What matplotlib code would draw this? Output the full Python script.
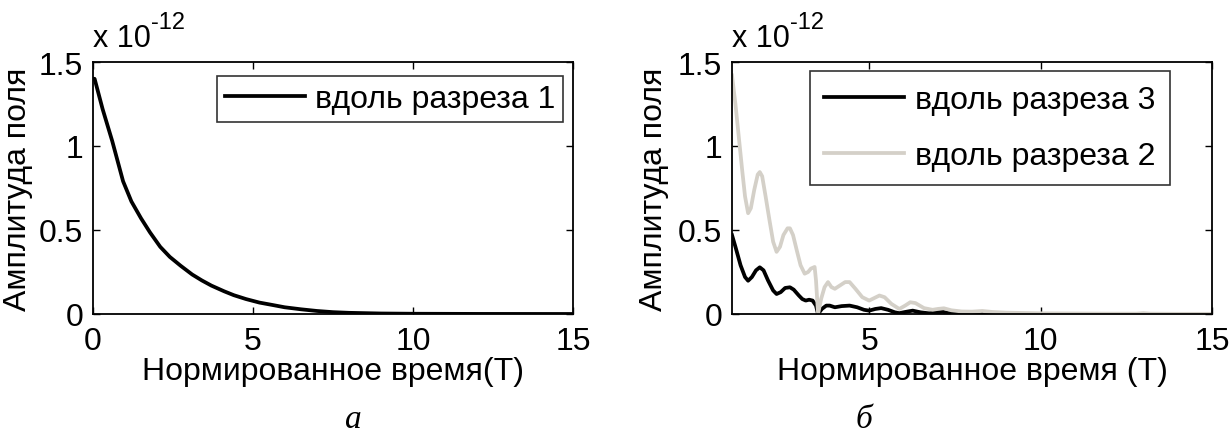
import numpy as np
import matplotlib
matplotlib.use("Agg")
import matplotlib.pyplot as plt

plt.rcParams['font.family'] = ['Liberation Sans', 'DejaVu Sans']

# panel a: along cut 1
t1 = [0.0, 0.05, 0.3, 0.6, 0.94, 1.2, 1.5, 1.78, 2.1, 2.4, 2.74, 3.1, 3.4, 3.7, 4.1, 4.4, 4.78,
      5.2, 5.6, 5.99, 6.5, 7.0, 7.5, 8.0, 9.0, 10.0, 12.0, 15.0]
a1 = [1.40, 1.40, 1.22, 1.03, 0.79, 0.67, 0.57, 0.486, 0.40, 0.34, 0.287, 0.235, 0.20, 0.169, 0.135, 0.112, 0.089,
      0.068, 0.054, 0.040, 0.028, 0.018, 0.011, 0.007, 0.003, 0.0015, 0.0005, 0.0001]

# panel b: along cut 2 (grey)
t2 = [1.0, 1.1, 1.2, 1.3, 1.38, 1.47, 1.55, 1.65, 1.75, 1.81, 1.88, 1.98, 2.1, 2.2, 2.3, 2.4, 2.5, 2.62, 2.69,
      2.78, 2.9, 3.0, 3.12, 3.22, 3.3, 3.41, 3.45, 3.51, 3.6, 3.7, 3.8, 3.9, 4.0, 4.15, 4.3, 4.43, 4.6, 4.8,
      5.0, 5.15, 5.3, 5.45, 5.65, 5.88, 6.05, 6.2, 6.35, 6.6, 6.85, 7.0, 7.18, 7.4, 7.7, 8.0, 8.3, 8.6, 9.0,
      9.5, 10.0, 11.0, 12.0, 12.8, 13.0, 13.2, 14.0, 15.0]
a2 = [1.42, 1.25, 1.05, 0.85, 0.70, 0.60, 0.63, 0.74, 0.83, 0.845, 0.82, 0.70, 0.55, 0.43, 0.37, 0.40, 0.47, 0.51, 0.51,
      0.47, 0.37, 0.29, 0.24, 0.25, 0.27, 0.28, 0.20, 0.0, 0.09, 0.16, 0.19, 0.16, 0.15, 0.17, 0.19, 0.19, 0.15, 0.10,
      0.08, 0.095, 0.11, 0.10, 0.06, 0.03, 0.05, 0.07, 0.065, 0.035, 0.025, 0.03, 0.034, 0.022, 0.015, 0.014, 0.018, 0.012, 0.008,
      0.006, 0.004, 0.003, 0.002, 0.002, 0.005, 0.002, 0.001, 0.001]

# panel b: along cut 3 (black)
t3 = [1.0, 1.1, 1.25, 1.38, 1.47, 1.58, 1.7, 1.81, 1.92, 2.05, 2.2, 2.3, 2.42, 2.55, 2.69, 2.8, 2.95, 3.05,
      3.15, 3.25, 3.35, 3.45, 3.51, 3.62, 3.75, 3.85, 4.0, 4.2, 4.43, 4.65, 4.85, 5.0, 5.18, 5.35, 5.55, 5.75,
      5.88, 6.05, 6.27, 6.5, 6.75, 6.95, 7.15, 7.3, 7.6, 8.0, 9.0, 10.0, 12.0, 15.0]
a3 = [0.47, 0.40, 0.29, 0.22, 0.198, 0.22, 0.26, 0.278, 0.26, 0.20, 0.14, 0.119, 0.13, 0.155, 0.159, 0.145, 0.11, 0.089,
      0.08, 0.085, 0.08, 0.05, 0.0, 0.03, 0.05, 0.05, 0.04, 0.047, 0.05, 0.04, 0.025, 0.02, 0.03, 0.035, 0.025, 0.01,
      0.005, 0.012, 0.02, 0.01, 0.004, 0.01, 0.013, 0.006, 0.002, 0.001, 0.0008, 0.0005, 0.0003, 0.0002]

grey = '#d4d0c8'
scale = 1e-12
fs = 23

fig = plt.figure(figsize=(12.32, 4.35), dpi=100)
ax1 = fig.add_axes([93/1232, 1-315/435, 480/1232, 252/435])
ax2 = fig.add_axes([732/1232, 1-315/435, 480/1232, 252/435])

ax1.plot(t1, np.array(a1)*scale, color='black', lw=2.7, solid_joinstyle='round', label='вдоль разреза 1')
ax1.set_xlim(0, 15)
ax1.set_xticks([0, 5, 10, 15])

ax2.plot(t3, np.array(a3)*scale, color='black', lw=2.7, solid_joinstyle='round', label='вдоль разреза 3')
ax2.plot(t2, np.array(a2)*scale, color=grey, lw=2.7, solid_joinstyle='round', label='вдоль разреза 2')
ax2.set_xlim(1, 15)
ax2.set_xticks([5, 10, 15])

for ax, xl in ((ax1, 'Нормированное время(T)'), (ax2, 'Нормированное время (T)')):
    ax.set_ylim(0, 1.5*scale)
    ax.set_yticks(np.array([0, 0.5, 1, 1.5])*scale)
    ax.set_yticklabels(['0', '0.5', '1', '1.5'])
    ax.tick_params(direction='in', length=5, width=1, labelsize=fs, top=True, right=True, pad=7)
    ax.tick_params(axis='x', pad=9)
    for s in ax.spines.values():
        s.set_linewidth(1.3)
    ax.set_xlabel(xl, fontsize=fs, labelpad=0)
    ax.set_ylabel('Амплитуда поля', fontsize=fs)

ax1.yaxis.set_label_coords(-0.125, 0.5)
ax2.yaxis.set_label_coords(-0.131, 0.5)

leg1 = ax1.legend(loc='upper right', bbox_to_anchor=(0.979, 0.944), fontsize=fs, frameon=True,
                  fancybox=False, edgecolor='black', handlelength=2.5, borderaxespad=0,
                  handletextpad=0.3, borderpad=0.25)
leg1.get_frame().set_linewidth(1.2)
leg2 = ax2.legend(loc='upper right', bbox_to_anchor=(0.9125, 0.964), fontsize=fs, frameon=True,
                  fancybox=False, edgecolor='black', handlelength=2.5, borderaxespad=0,
                  handletextpad=0.35, borderpad=0.45, labelspacing=0.8)
leg2.get_frame().set_linewidth(1.2)

# MATLAB-style exponent label above each axes
fig.canvas.draw()
for ax in (ax1, ax2):
    t = ax.text(0.0, 1.035, 'x 10', transform=ax.transAxes, fontsize=22, ha='left', va='bottom')
    bb = t.get_window_extent(renderer=fig.canvas.get_renderer())
    fig.text(bb.x1/fig.bbox.width, (bb.y1 - 10)/fig.bbox.height, '-12', fontsize=17,
             ha='left', va='bottom')

fig.text(353/1232, 1-428/435, 'а', fontsize=24, style='italic', family='Liberation Serif', ha='center', va='baseline')
fig.text(864/1232, 1-428/435, 'б', fontsize=24, style='italic', family='Liberation Serif', ha='center', va='baseline')

fig.savefig('out.png', dpi=100)
